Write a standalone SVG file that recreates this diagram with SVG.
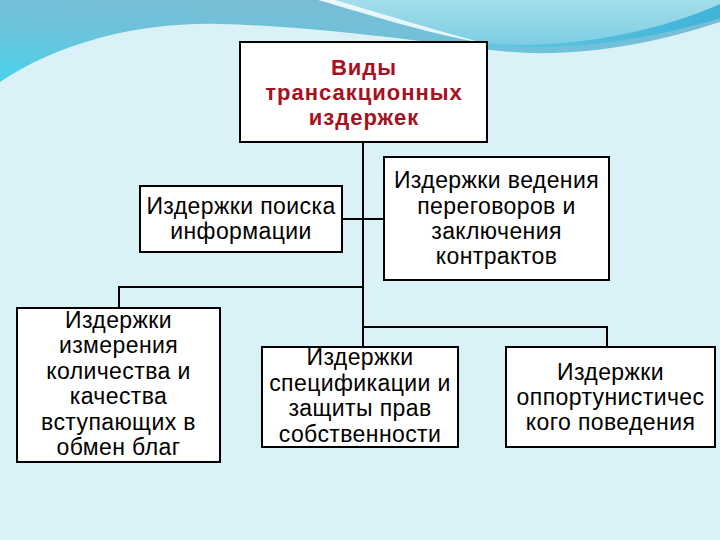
<svg xmlns="http://www.w3.org/2000/svg" width="720" height="540" viewBox="0 0 720 540">
<defs>
<linearGradient id="gA" x1="0" y1="1" x2="0.6" y2="0">
<stop offset="0" stop-color="#47d3ec"/>
<stop offset="0.5" stop-color="#6cc3da"/>
<stop offset="1" stop-color="#7cbcd4"/>
</linearGradient>
<linearGradient id="gB" x1="0" y1="0" x2="0" y2="1">
<stop offset="0" stop-color="#a4deea"/>
<stop offset="1" stop-color="#7ccde4"/>
</linearGradient>
<linearGradient id="gC" x1="0" y1="0" x2="1" y2="0">
<stop offset="0" stop-color="#62c9e2"/>
<stop offset="1" stop-color="#3fb3d9"/>
</linearGradient>
<style>
.box{fill:#ffffff;stroke:#000000;stroke-width:2}
.t{font-family:"Liberation Sans",Arial,sans-serif;font-size:23px;letter-spacing:0.4px;fill:#000000;text-anchor:middle}
.h{font-family:"Liberation Sans",Arial,sans-serif;font-size:22px;letter-spacing:1px;font-weight:bold;fill:#a8101e;text-anchor:middle}
.ln{fill:none;stroke:#000000;stroke-width:2}
</style>
</defs>
<rect x="0" y="0" width="720" height="540" fill="#daf2f7"/>
<path d="M0,82 C60,42 140,22 220,24 C300,26 400,38 490,50 C570,60 650,45 720,22 V0 H0 Z" fill="url(#gA)"/>
<path d="M470,44 C560,54 650,40 720,18 V0 H640 Z" fill="url(#gC)"/>
<path d="M320,0 C380,16 440,34 488,43 C560,50 650,35 720,4 V0 Z" fill="url(#gB)"/>
<path d="M318,0 C380,18 430,34 488,44 C440,32 390,16 335,0 Z" fill="#f2fbfd" opacity="0.9"/>
<g id="connectors">
<path class="ln" d="M363,142 V347"/>
<path class="ln" d="M342,219 H384"/>
<path class="ln" d="M363,287 H119 V308"/>
<path class="ln" d="M363,327 H607 V347"/>
</g>
<g id="root">
<rect class="box" x="240" y="42" width="247" height="100"/>
<text class="h" x="364" y="75">Виды</text>
<text class="h" x="364" y="100">трансакционных</text>
<text class="h" x="364" y="125">издержек</text>
</g>
<g id="search">
<rect class="box" x="140" y="186" width="202" height="66"/>
<text class="t" x="241" y="214">Издержки поиска</text>
<text class="t" x="241" y="239">информации</text>
</g>
<g id="negotiation">
<rect class="box" x="384" y="157" width="225" height="123"/>
<text class="t" x="496.5" y="188">Издержки ведения</text>
<text class="t" x="496.5" y="214">переговоров и</text>
<text class="t" x="496.5" y="239">заключения</text>
<text class="t" x="496.5" y="264">контрактов</text>
</g>
<g id="measurement">
<rect class="box" x="17" y="308" width="203" height="154"/>
<text class="t" x="118.5" y="328">Издержки</text>
<text class="t" x="118.5" y="353">измерения</text>
<text class="t" x="118.5" y="379">количества и</text>
<text class="t" x="118.5" y="404">качества</text>
<text class="t" x="118.5" y="430">вступающих в</text>
<text class="t" x="118.5" y="455">обмен благ</text>
</g>
<g id="specification">
<rect class="box" x="262" y="347" width="196" height="100"/>
<text class="t" x="360" y="365">Издержки</text>
<text class="t" x="360" y="391">спецификации и</text>
<text class="t" x="360" y="416">защиты прав</text>
<text class="t" x="360" y="442">собственности</text>
</g>
<g id="opportunism">
<rect class="box" x="506" y="347" width="209" height="100"/>
<text class="t" x="610.5" y="380">Издержки</text>
<text class="t" x="610.5" y="405">оппортунистичес</text>
<text class="t" x="610.5" y="430">кого поведения</text>
</g>
</svg>
